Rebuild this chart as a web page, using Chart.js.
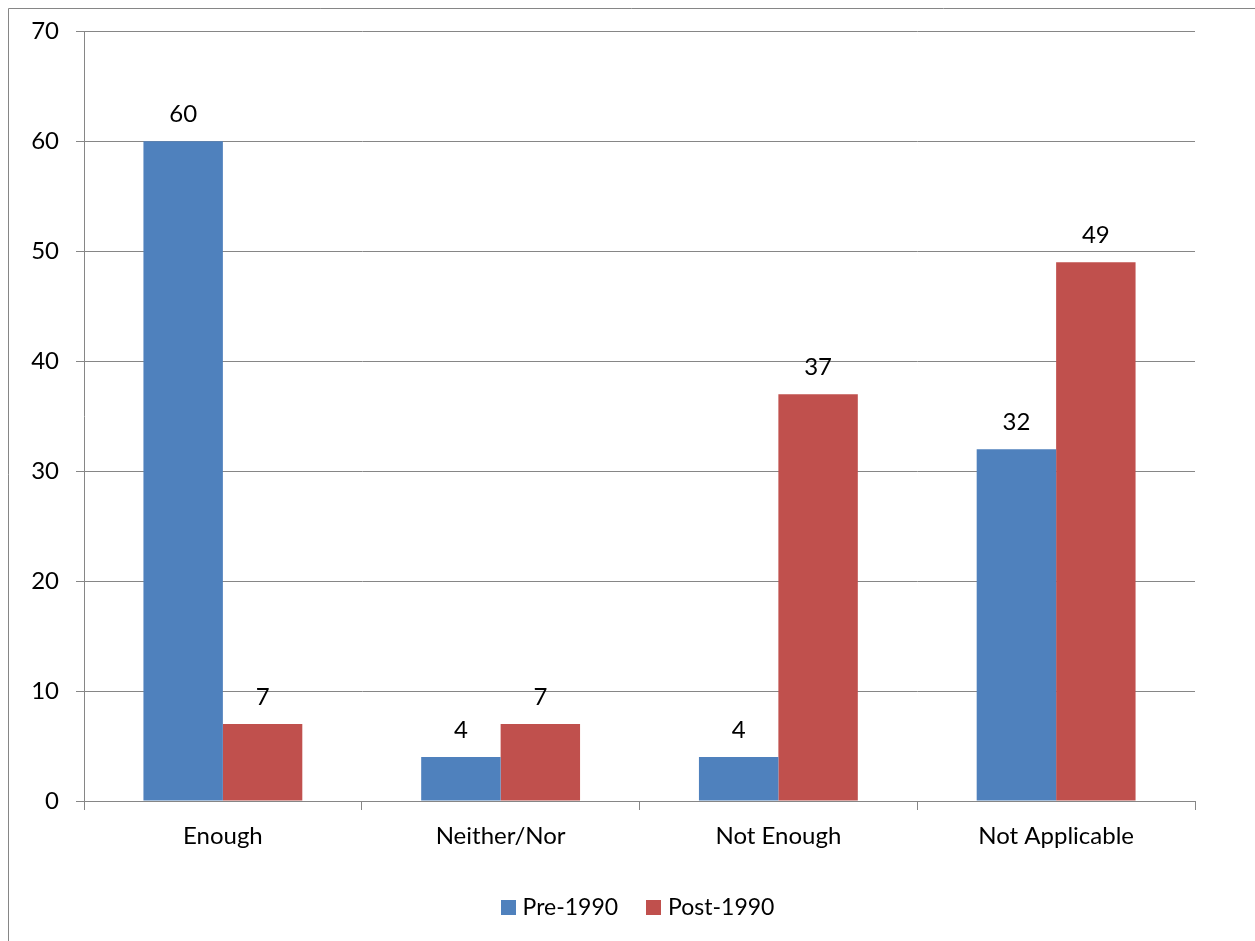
<!DOCTYPE html>
<html>
<head>
<meta charset="utf-8">
<script src="https://cdn.jsdelivr.net/npm/chart.js@4"></script>
<style>
  html, body { margin: 0; padding: 0; background: #ffffff; }
  #wrap { width: 1255px; height: 941px; position: relative; }
</style>
</head>
<body>
<div id="wrap"><canvas id="chart" width="1255" height="941"></canvas></div>
<script>
const categories = ['Enough', 'Neither/Nor', 'Not Enough', 'Not Applicable'];
const seriesNames = ['Pre-1990', 'Post-1990'];
const pre1990 = [60, 4, 4, 32];
const post1990 = [7, 7, 37, 49];
const yTicks = [0, 10, 20, 30, 40, 50, 60, 70];

const FONT = 'Lato, "Open Sans", sans-serif';
const AXIS_GREY = '#868686';

// value labels above each bar
const barValueLabels = {
  id: 'barValueLabels',
  afterDatasetsDraw(chart) {
    const ctx = chart.ctx;
    ctx.save();
    ctx.fillStyle = '#000000';
    ctx.font = '24px ' + FONT;
    ctx.textAlign = 'center';
    ctx.textBaseline = 'middle';
    chart.data.datasets.forEach((ds, i) => {
      chart.getDatasetMeta(i).data.forEach((bar, j) => {
        ctx.fillText(String(ds.data[j]), bar.x, bar.y - 27);
      });
    });
    ctx.restore();
  }
};

// thin frame along the top and left edges
const outerFrame = {
  id: 'outerFrame',
  beforeDraw(chart) {
    const ctx = chart.ctx;
    ctx.save();
    ctx.strokeStyle = AXIS_GREY;
    ctx.lineWidth = 1;
    ctx.beginPath();
    ctx.moveTo(8.5, chart.height);
    ctx.lineTo(8.5, 8.5);
    ctx.lineTo(chart.width, 8.5);
    ctx.stroke();
    ctx.restore();
  }
};

// series key centred below the axis labels
const seriesKey = {
  id: 'seriesKey',
  afterDraw(chart) {
    const ctx = chart.ctx;
    const box = 15, textGap = 7, itemGap = 28;
    const cx = 637.5, cy = 907;
    ctx.save();
    ctx.font = '23px ' + FONT;
    ctx.textBaseline = 'middle';
    ctx.textAlign = 'left';
    const items = chart.data.datasets.map(ds => ({
      label: ds.label, color: ds.backgroundColor, w: ctx.measureText(ds.label).width
    }));
    let total = 0;
    items.forEach((it, i) => { total += box + textGap + it.w + (i ? itemGap : 0); });
    let x = cx - total / 2;
    items.forEach(it => {
      ctx.fillStyle = it.color;
      ctx.fillRect(Math.round(x), Math.round(cy - box / 2), box, box);
      ctx.fillStyle = '#000000';
      ctx.fillText(it.label, x + box + textGap, cy + 1);
      x += box + textGap + it.w + itemGap;
    });
    ctx.restore();
  }
};

new Chart(document.getElementById('chart'), {
  type: 'bar',
  data: {
    labels: categories,
    datasets: [
      { label: seriesNames[0], data: pre1990, backgroundColor: '#4F81BD' },
      { label: seriesNames[1], data: post1990, backgroundColor: '#C0504D' }
    ]
  },
  options: {
    responsive: false,
    animation: false,
    devicePixelRatio: 1,
    layout: { padding: { left: 0, top: 31, right: 60, bottom: 80 } },
    datasets: { bar: { categoryPercentage: 0.572, barPercentage: 1.0 } },
    plugins: {
      tooltip: { enabled: false },
      legend: { display: false }
    },
    scales: {
      x: {
        offset: true,
        grid: {
          offset: true,
          drawOnChartArea: false,
          drawTicks: true,
          tickLength: 9,
          color: AXIS_GREY
        },
        border: { display: true, color: AXIS_GREY, width: 1 },
        ticks: {
          color: '#000000',
          font: { family: FONT, size: 24 },
          padding: 12,
          maxRotation: 0
        },
        afterFit(scale) { scale.height = 60; }
      },
      y: {
        min: 0,
        max: 70,
        afterBuildTicks(scale) { scale.ticks = yTicks.map(v => ({ value: v })); },
        grid: {
          color: AXIS_GREY,
          drawTicks: true,
          tickLength: 8
        },
        border: { display: true, color: AXIS_GREY, width: 1 },
        ticks: {
          color: '#000000',
          font: { family: FONT, size: 24 },
          padding: 17
        },
        afterFit(scale) { scale.width = 84; }
      }
    }
  },
  plugins: [barValueLabels, outerFrame, seriesKey]
});
</script>
</body>
</html>
